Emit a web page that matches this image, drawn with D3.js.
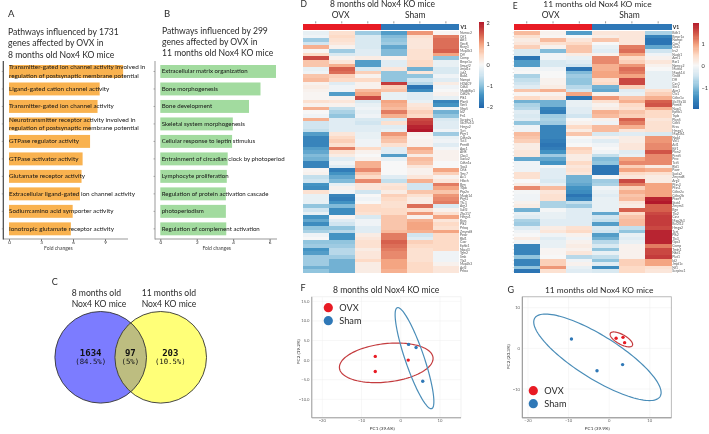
<!DOCTYPE html>
<html><head><meta charset="utf-8">
<script src="https://cdn.jsdelivr.net/npm/d3@7/dist/d3.min.js"></script>
<style>html,body{margin:0;padding:0;background:#fff}svg{display:block;filter:blur(.3px)}text{font-family:Lato,"Open Sans",sans-serif;fill:#2a2a2a}</style>
</head><body><svg id="c" width="709" height="434"></svg>
<script>
// ---------- panel A / B ----------
const pathwaysA=[["Transmitter-gated ion channel activity involved in","regulation of postsynaptic membrane potential"],["Ligand-gated cation channel activity"],["Transmitter-gated ion channel activity"],["Neurotransmitter receptor activity involved in","regulation of postsynaptic membrane potential"],["GTPase regulator activity"],["GTPase activator activity"],["Glutamate receptor activity"],["Extracellular ligand-gated ion channel activity"],["Sodium:amino acid symporter activity"],["Ionotropic glutamate receptor activity"]];
const foldA=[10.7,8.5,8.3,7.65,7.6,6.9,6.8,6.65,5.97,5.8];
const ticksA=[0,3,6,9];
const pathwaysB=["Extracellular matrix organization","Bone morphogenesis","Bone development","Skeletal system morphogenesis","Cellular response to leptin stimulus","Entrainment of circadian clock by photoperiod","Lymphocyte proliferation","Regulation of protein activation cascade","photoperiodism","Regulation of complement activation"];
const foldB=[6.35,5.5,4.87,3.98,3.94,3.7,3.65,3.6,3.6,3.62];
const ticksB=[0,2,4,6];
// ---------- venn ----------
const vennCounts=["1634","97","203"];
const vennPct=["(84.5%)","(5%)","(10.5%)"];
// ---------- heatmap D columns ----------
const genesD=["Nsmce2","Ctf1","Atf3","Gnc8","Rxrg3","Map3k3","Dff","Comp","Bmpr1a","Smurf2","Jmjd1c","Jak1","Bub1","Nampt","HDAC9","Cdk4","Mapk8ip1","Cdk2h","Plk1","Plxn5","Gm5","Sfrp5","Id2","Fn1","Serpine1","Slc39a10","Hmga2","Tert","Ptgr1","Cdkn2a","Tet3","Prmt8","Apc1","Arf8","Cbx3","Sucla2","Cdkn1a","Top3","Ctsk","Tmc7","Ae1","Hibch","Bgn","Tspb","Ptp2n","Mapk14","Ptgs1","Tfe3","Arg2","Sulf2","Zfp317","Hmga1","Kras","Plk2","Prkcq","Zmynd8","Pawr","Rbl1","Casr","Ephb1","Nipal3","Tgm2","Smk","Tlx2","Map2k3","Arf2","Prkca"];
const d1=[-.2,-.1,-.9,-.5,.9,.05,.5,1.7,.7,.7,-.2,-.1,.7,.8,.1,.2,.1,.05,.05,.4,.1,.9,0,-.1,.9,-.5,-.5,-.6,-1.4,-1.7,-1.7,-1.7,-1.4,-1.3,-1.1,-1.2,-1.7,-1.7,.05,.1,-.6,-.5,-1.5,-1.6,.4,-.2,-.2,-.2,-1,-.5,-.2,-1.5,-1.3,-1.6,-1,-.8,-.1,0,-1,-.9,-1.5,-1.4,-.9,-.9,-.9,-1.2,-1];
const d2=[.4,.5,.4,.3,.1,-.9,-.4,.1,.3,.9,1.5,1.4,.6,.5,-.3,-.1,-.1,-1.4,.1,.3,.1,-.6,-.8,-1,-.3,-.3,-.3,-.3,.3,.5,.6,.4,1.3,.4,.2,-.3,-.1,-.3,-1.8,-1.5,-1.3,-1.1,-.2,.1,-.1,-1.7,-1.8,-1.5,-1.1,-1.6,-1.6,.05,-.3,-.5,-1,-.7,-1.5,-1.5,-1,-.9,-.7,-.7,-.9,-1.2,-1.2,-1.2,-1.2];
const d3c=[-.9,-.4,-.4,-.4,-.4,-.3,-.3,.2,-1.4,-1.4,-.4,.6,.1,.5,.1,.1,.8,1,1.7,-.4,-.2,-.1,-.2,-.1,-.4,-.5,-.3,-.3,-.2,-.2,-.1,-.1,.5,.1,0,.1,.9,.9,1.2,.7,.5,1.2,.3,.3,-.5,0,-.1,0,.5,.5,.4,-.4,-.1,-.1,-.3,-.3,.2,.3,.4,.4,.2,.3,.3,.5,.2,.2,.2];
const d4=[-1.4,-1.1,-1,-.9,-1.3,-1.1,-1.1,.1,-.3,-.3,.3,-1,-1,-1,1.8,.6,.7,-.2,-.2,1,.9,.8,1.3,.9,-.4,.4,-.3,-.2,1.1,.8,.7,.4,-.3,-.3,-1.4,-.2,0,0,0,0,-.3,-.6,.3,.4,.2,.6,.5,.4,.4,.5,.5,.7,.7,.7,.7,.8,1.3,1.3,1.5,1.4,1.3,1.2,1.2,1,1,1,.9];
const d5=[1.1,.4,.3,.3,.3,.4,.4,.4,.5,.5,-1.2,.3,-1,-.5,-.7,-1.9,-1.6,-.3,-.3,-.2,.3,.4,.6,.5,1.7,1.8,2,2.1,.1,.05,.1,.1,1,.8,.2,.8,.7,.3,.1,.1,.3,.9,-.5,-.5,.7,.4,.2,.2,1.4,.4,1.1,.1,.9,1,1,.9,-.5,-.3,.6,.5,.4,.4,.4,.4,.5,.5,.5];
const d6=[.05,1.3,1.4,1.4,1.4,1.5,1,-1,-.2,-.2,-.4,-.4,-.1,-.3,.2,-.1,0,.1,-.2,-1.7,-1.5,-.1,-1.2,-1,-.4,-.3,-.3,-.1,-.9,-.2,-.1,-.3,-.05,.1,.1,.1,0,0,1,.6,.1,.3,1.3,1,.7,1.1,1.2,1.3,-.4,.1,.4,1,.3,.5,.4,1,.5,.5,.5,.5,.5,-.1,-.1,-.1,.1,.3,.3];
// ---------- heatmap E columns ----------
const genesE=["Bdh1","Bmpr1a","Nampt","Cox7","Cbx1","Irs2","Nuak1","Aml1","Rxr1","Nsmce2","Mettl4","Mapk14","Gnc8","Dff","Cav1","Sirt1","Ajm1","Ctc1","Cdkn1a","Slc39a10","Prmt8","Nup3","Ephb1","Tspb","Plxn5","Cdk5","Kras","Hmga1","Map3k1","Nsd4","Vkl1","Atl1","Kif1","Plxn2","Pcnt5","Prcc","Tet5","Rbl1","Pawr","Sucla2","Zmynd8","Arg2","Pfas3","Pfas1","Cdkn2a","Cdkn2b","Ptxn9","Stat4","Zmym3","Bgn","Tlx2","Casr","Map2k3","Bcl2l12","Hmga2","Tert","Plk2","Tlx3","Gpc3","Comp","Tmin1","Nkd1","Plat1","Id2","Jmjd1c","Nf1","Serpine1"];
const e1=[.8,.4,.2,.3,.6,-.4,-.4,-1.9,-1.4,-1.4,-.05,0,-.8,-.6,-.5,-.3,.7,.05,.5,-1.2,-.8,-.7,-.3,-.4,-.3,-1,-.1,-.1,.8,.7,.6,.2,.2,.3,.3,-1.3,-.1,-.1,-.1,.4,.4,0,.2,1.2,-.05,-.1,-.1,.1,.2,-1.2,-.2,-.3,-.8,-.9,-.3,-.1,0,.2,-.1,-1.7,-1.7,-1.7,-1,-1.7,-1.7,-1,-1.9];
const e2=[.1,.05,.8,.4,.1,-1.1,-.1,-.1,-.4,-.4,-.1,0,0,.1,.1,.2,.9,.1,.3,-1.2,-1.2,-1.7,-1.8,-.9,-.8,-.9,-1.7,-1.7,-1.7,-1.7,-1.8,-1.9,-1.8,-1.5,-.9,-1.3,-1.5,-.05,-.3,-.3,-.3,-.4,-.2,.8,.3,.4,.4,-.8,-.8,-.05,-.2,-.2,-.3,-.3,.2,.3,-.1,-.3,-.2,-.2,.05,.05,0,.6,.6,1.1,.4];
const e3=[-1.4,0,.3,.5,.7,.7,.2,-.2,-.3,-.5,-1.9,-1.1,-.9,-1,-1,-.7,-.5,1,-1.9,-.2,-.2,-.3,-.3,-.5,0,.1,.5,.2,.7,0,-.1,0,.6,.5,.2,.2,.5,.3,.4,.3,-1.2,-1.2,-1.3,-1.5,-1.6,-1.9,-1.7,-.6,-.9,-.3,-.3,-.3,-.3,-.3,.4,.5,.1,-.1,.1,.2,.1,.3,-.7,-.1,.1,-.2,-.3];
const e4=[.3,.2,.7,0,-.2,-.3,.1,1.2,1.2,.9,.9,1,1,.4,.5,-1.2,-1.3,.1,1.1,.4,.1,.2,.9,.8,.1,-.1,.8,.8,-.4,.1,-.3,-.1,0,-.1,-.6,-1.1,-1,-1.9,-1.9,-1.9,0,-.9,-.8,-.1,-.2,-.3,-.2,-.2,-.2,-.2,-1.3,-.5,-.6,-1.4,-.4,-.5,-1.4,-1.2,-.7,-.4,-1,-.2,-.6,-1,-.3,-1.6,-.4];
const e5=[.3,.3,.3,.3,1.3,1.4,1,.5,.6,1.1,1.4,1.3,1,1.7,1.7,.6,-.3,-.2,.7,.9,.5,.4,.7,.6,1.5,1.3,.9,.3,-.3,.2,.2,.3,.3,-.3,-.2,1,1.2,.6,1,.5,.3,1.7,1.3,.6,.9,.7,.8,.3,.2,1.5,.5,.7,.8,.8,-.6,-1,-.2,-.3,-.2,.1,.1,.1,.1,.6,.6,.5,.5];
const e6=[-.8,-1.7,-1.9,-1.9,-1.3,-.5,-.1,.1,.3,.1,0,-.2,-.2,-.2,-.2,-.2,.4,.6,.9,1.5,1.6,.9,.5,.5,.3,.4,.4,.4,-.4,1.1,1.1,1.2,1.2,1.6,1.2,1.2,1.2,.2,.9,.4,.2,.2,1,1,1,1,2,2.1,1.5,1.5,1.7,1.8,1.8,1.8,1.7,2,2,2,2,1.3,1.7,1.7,1.8,1,1,.4,.3];
const barD=[1,1,1,0,0,0], cbTicksD=[2,1,0,-1,-2], cbTicksE=[1,0,-1];
// ---------- PCA ----------
const pcaF={ovx:[[-6.5,.94],[-6.5,-2.9],[1.9,0]],sham:[[2,4],[3.9,3.2],[5.6,-5.4]]};
const ellF={ovx:[-3.7,-.7,12,4.9,6.5],sham:[3.5,.5,13.6,2.4,-71.2]};
const pcaG={ovx:[[1.7,2.5],[3.4,2.7],[3.8,1.4]],sham:[[-9.3,2.3],[3.3,-4],[-3,-5.5]]};
const ellG={ovx:[3,2.2,3.1,1.2,-29],sham:[-2.9,-2.2,18.2,5.3,-32]};

const RED="#E81B24",BLUE="#2F78B7";
const svg=d3.select("#c");
const T=(x,y,s,o={})=>svg.append("text").attr("x",x).attr("y",y).text(s).attr("font-size",o.fs||9.5).attr("text-anchor",o.a||"start").attr("font-weight",o.w||400).style("fill",o.c||"#2a2a2a").style("font-family",o.f||null);

// ----- bars -----
function bars(cfg){
  const x=d3.scaleLinear().domain(cfg.dom).range(cfg.xr);
  const y=d3.scaleBand().domain(d3.range(cfg.vals.length)).range([65,235.3]).paddingInner(.26);
  svg.append("g").selectAll("rect").data(cfg.vals).join("rect").attr("x",x(0)).attr("y",(d,i)=>y(i)).attr("width",d=>x(d)-x(0)).attr("height",y.bandwidth()).attr("fill",cfg.col);
  const ax=svg.append("g").attr("transform","translate(0,239)").call(d3.axisBottom(x).tickValues(cfg.ticks).tickSize(2).tickFormat(d3.format("d")));
  ax.select(".domain").remove();
  ax.selectAll("line").attr("stroke","#666");
  ax.selectAll("text").attr("font-size",4.6).attr("dy",0).attr("y",5).attr("font-family","Lato");
  svg.append("line").attr("x1",cfg.ax).attr("x2",cfg.xEnd).attr("y1",239).attr("y2",239).attr("stroke","#999").attr("stroke-width",1);
  svg.append("line").attr("x1",cfg.ax).attr("x2",cfg.ax).attr("y1",61).attr("y2",239.5).attr("stroke",cfg.axc).attr("stroke-width",cfg.axw);
  svg.append("g").selectAll("line").data(cfg.vals).join("line").attr("x1",cfg.ax-1.5).attr("x2",cfg.ax).attr("y1",(d,i)=>y(i)+y.bandwidth()/2).attr("y2",(d,i)=>y(i)+y.bandwidth()/2).attr("stroke","#777").attr("stroke-width",.6);
  cfg.labels.forEach((l,i)=>{const ls=[].concat(l),c=y(i)+y.bandwidth()/2;
    ls.forEach((t,j)=>T(cfg.lx,c+2+(j-(ls.length-1)/2)*8.4,t,{fs:cfg.lfs,c:"#151515"}));});
  T(cfg.cx,250.3,"Fold changes",{fs:5,a:"middle",c:"#444"});
}
bars({vals:foldA,labels:pathwaysA,dom:[0,9],xr:[9,105],ticks:ticksA,col:"#F9B24F",ax:3.3,xEnd:128,axc:"#444",axw:1.2,lx:9,lfs:6.35,cx:58.3});
bars({vals:foldB,labels:pathwaysB,dom:[0,6],xr:[160.3,269.6],ticks:ticksB,col:"#A2DB9F",ax:155,xEnd:277,axc:"#999",axw:1,lx:161.7,lfs:6.1,cx:216.7});
T(8,17,"A",{fs:9.5});
["Pathways influenced by 1731","genes affected by OVX in","8 months old Nox4 KO mice"].forEach((t,i)=>T(8,35+i*11.4,t,{fs:8.6}));
T(164,17,"B",{fs:9.5});
["Pathways influenced by 299","genes affected by OVX in","11 months old Nox4 KO mice"].forEach((t,i)=>T(162,33.5+i*11.2,t,{fs:8.6}));

// ----- venn -----
const vx=d3.scaleLinear().domain([0,1]).range([100.7,160.7]),vy=357.3,vr=45.8;
const defs=svg.append("defs");
defs.append("clipPath").attr("id","vc").append("circle").attr("cx",vx(0)).attr("cy",vy).attr("r",vr);
svg.append("circle").attr("cx",vx(0)).attr("cy",vy).attr("r",vr).attr("fill","#7C7CFF");
svg.append("circle").attr("cx",vx(1)).attr("cy",vy).attr("r",vr).attr("fill","#FFFF78");
svg.append("circle").attr("cx",vx(1)).attr("cy",vy).attr("r",vr).attr("fill","#BDBD80").attr("clip-path","url(#vc)");
[0,1].forEach(i=>svg.append("circle").attr("cx",vx(i)).attr("cy",vy).attr("r",vr).attr("fill","none").attr("stroke","#333").attr("stroke-width",.9));
[90.7,130.3,170.3].forEach((x,i)=>{T(x,355.7,vennCounts[i],{fs:9,a:"middle",f:"DejaVu Sans Mono",c:"#111",w:700});T(x,363.6,vennPct[i],{fs:7.3,a:"middle",f:"DejaVu Sans Mono",c:"#111"});});
T(51.7,285,"C",{fs:9});
T(71.7,295.7,"8 months old",{fs:8.6});T(71.7,306.7,"Nox4 KO mice",{fs:8.6});
T(141.7,295.7,"11 months old",{fs:8.6});T(141.7,306.7,"Nox4 KO mice",{fs:8.6});

// ----- heatmaps -----
const col=d3.scaleLinear().domain([-2.1,-1.5,-1,-.5,0,.5,1,1.5,2.1]).range(["#2166AC","#4393C3","#92C5DE","#D1E5F0","#F7F7F7","#FDDBC7","#F4A582","#D6604D","#B2182B"]).clamp(true);
function heat(cfg){
  const x=d3.scaleBand().domain(d3.range(6)).range(cfg.xr);
  const y=d3.scaleBand().domain(d3.range(cfg.genes.length)).range([31,273]);
  const g=svg.append("g").attr("shape-rendering","crispEdges");
  cfg.cols.forEach((c,ci)=>g.append("g").selectAll("rect").data(c).join("rect").attr("x",x(ci)).attr("y",(d,i)=>y(i)).attr("width",x.bandwidth()+.3).attr("height",y.bandwidth()+.3).attr("fill",d=>col(d)));
  barD.forEach((b,i)=>{g.append("rect").attr("x",x(i)).attr("y",23.7).attr("width",x.bandwidth()+.3).attr("height",6.4).attr("fill",b?RED:BLUE);
    svg.append("line").attr("x1",x(i)+x.bandwidth()/2).attr("x2",x(i)+x.bandwidth()/2).attr("y1",21.3).attr("y2",23.4).attr("stroke","#555").attr("stroke-width",.6);});
  cfg.genes.forEach((t,i)=>T(cfg.xr[1]+1,y(i)+y.bandwidth()/2+1.2,t,{fs:3.4,c:"#555"}));
  T(cfg.xr[1]+1.5,28.6,"V1",{fs:5,w:700,c:"#222"});
  T(cfg.ttl[0],6.9,cfg.ttl[1],{fs:cfg.tfs});
  T(cfg.ovx,18.3,"OVX",{fs:8.5});T(cfg.sham,18.3,"Sham",{fs:8.5});
  T(cfg.let[0],cfg.let[1],cfg.let[2],{fs:8.5});
  // colour bar
  const cy=d3.scaleLinear().domain([2,-2]).range(cfg.cbr);
  g.append("g").selectAll("rect").data(d3.range(-cfg.cbm,cfg.cbm,.05)).join("rect").attr("x",cfg.cbx).attr("y",d=>cy(d+.05)).attr("width",cfg.cbw).attr("height",d=>cy(d)-cy(d+.05)+.3).attr("fill",d=>col(d*2.1/cfg.cbm));
  cfg.ticks.forEach(t=>T(cfg.cbx+cfg.cbw+2.3,cy(t)+2,d3.format("d")(t).replace("-","\u2212"),{fs:5.6,c:"#333"}));
  if(cfg.dots){svg.append("g").selectAll("line").data(cfg.genes).join("line").attr("x1",cfg.xr[0]-.8).attr("x2",cfg.xr[0]).attr("y1",(d,i)=>y(i)+y.bandwidth()/2).attr("y2",(d,i)=>y(i)+y.bandwidth()/2).attr("stroke","#aaa").attr("stroke-width",.6);}
}
heat({xr:[302.7,458.9],genes:genesD,cols:[d1,d2,d3c,d4,d5,d6],ttl:[330,"8 months old Nox4 KO mice"],tfs:8.5,ovx:331.7,sham:405,let:[300.5,7,"D"],cbx:479,cbw:5.3,cbr:[23.3,106.7],cbm:2.04,ticks:cbTicksD});
heat({xr:[513.6,671.3],genes:genesE,cols:[e1,e2,e3,e4,e5,e6],ttl:[543.3,"11 months old Nox4 KO mice"],tfs:8.4,ovx:541.7,sham:619.3,let:[512.7,8.5,"E"],cbx:693.3,cbw:6,cbr:[21.7,109.7],cbm:1.95,ticks:cbTicksE,dots:true});

// ----- PCA -----
function pca(cfg){
  const x=d3.scaleLinear().domain([-20,10]).range(cfg.xr),y=d3.scaleLinear().domain(cfg.yd).range(cfg.yr);
  const f=cfg.frame;
  const g=svg.append("g");
  cfg.xt.forEach(t=>g.append("line").attr("x1",x(t)).attr("x2",x(t)).attr("y1",f[1]).attr("y2",f[3]).attr("stroke","#efefef").attr("stroke-width",.5));
  cfg.yt.forEach(t=>g.append("line").attr("y1",y(t)).attr("y2",y(t)).attr("x1",f[0]).attr("x2",f[2]).attr("stroke","#efefef").attr("stroke-width",.5));
  g.append("rect").attr("x",f[0]).attr("y",f[1]).attr("width",f[2]-f[0]).attr("height",f[3]-f[1]).attr("fill","none").attr("stroke",cfg.fc).attr("stroke-width",.8);
  g.append("path").attr("d",`M${f[0]},${f[1]}V${f[3]}H${f[2]}`).attr("fill","none").attr("stroke","#999").attr("stroke-width",1);
  cfg.xt.forEach(t=>T(x(t),422.3,d3.format("d")(t).replace("-","\u2212"),{fs:4.2,a:"middle",c:"#666"}));
  cfg.yt.forEach(t=>T(f[0]-2.3,y(t)+1.5,d3.format("d")(t).replace("-","\u2212")+(t%5==0&&cfg.dec?".0":""),{fs:4.2,a:"end",c:"#666"}));
  const ell=(e,c)=>{const a=e[4]*Math.PI/180,cur=d3.line().x(t=>x(e[0]+e[2]*Math.cos(t)*Math.cos(a)-e[3]*Math.sin(t)*Math.sin(a))).y(t=>y(e[1]+e[2]*Math.cos(t)*Math.sin(a)+e[3]*Math.sin(t)*Math.cos(a))).curve(d3.curveLinearClosed);
    svg.append("path").attr("d",cur(d3.range(0,6.283,.05))).attr("fill","none").attr("stroke",c).attr("stroke-width",1.2);};
  ell(cfg.ell.ovx,"#C43C3F");ell(cfg.ell.sham,"#4A8DB8");
  [["ovx",RED],["sham",BLUE]].forEach(([k,c])=>svg.append("g").selectAll("circle").data(cfg.pts[k]).join("circle").attr("cx",d=>x(d[0])).attr("cy",d=>y(d[1])).attr("r",1.7).attr("fill",c));
  T(cfg.ttl[0],cfg.ttl[1],cfg.ttl[2],{fs:cfg.tfs});
  T(cfg.let[0],cfg.let[1],cfg.let[2],{fs:9});
  T(cfg.xl[0],429.6,cfg.xl[1],{fs:4.6,a:"middle",c:"#333"});
  svg.append("text").attr("transform",`translate(${cfg.yl[0]},${cfg.yl[1]}) rotate(-90)`).attr("text-anchor","middle").attr("font-size",4.6).text(cfg.yl[2]).style("fill","#333");
  [["OVX",RED],["Sham",BLUE]].forEach(([s,c],i)=>{svg.append("circle").attr("cx",cfg.leg[0]).attr("cy",cfg.leg[1]+i*cfg.leg[2]).attr("r",4.6).attr("fill",c);
    T(cfg.leg[0]+11,cfg.leg[1]+i*cfg.leg[2]+3.4,s,{fs:9.2});});
}
pca({xr:[322.3,440],yd:[-10,15],yr:[399.3,301.3],frame:[311.8,296.8,461,417.8],fc:"#eee",xt:[-20,-10,0,10],yt:[-10,-5,0,5,10,15],dec:true,pts:pcaF,ell:ellF,ttl:[333,293,"8 months old Nox4 KO mice"],tfs:8.6,let:[300.5,291,"F"],xl:[382.3,"PC1 (39.6%)"],yl:[299.5,351.7,"PC2 (19.2%)"],leg:[328.3,307.7,13]});
pca({xr:[528,649.8],yd:[-10,10],yr:[389,307.7],frame:[522.3,296.8,671.3,417.8],fc:"#aaa",xt:[-20,-10,0,10],yt:[-10,0,10],dec:false,pts:pcaG,ell:ellG,ttl:[545,292.7,"11 months old Nox4 KO mice"],tfs:8.4,let:[507.5,293.3,"G"],xl:[597.3,"PC1 (39.9%)"],yl:[510.3,356.7,"PC2 (20.3%)"],leg:[533.3,390.7,13]});
</script></body></html>
